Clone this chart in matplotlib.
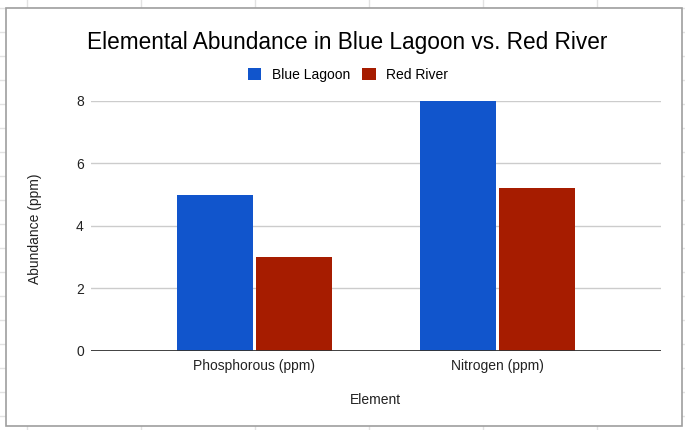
import matplotlib
matplotlib.use("Agg")
import matplotlib.pyplot as plt
import numpy as np

categories = ["Phosphorous (ppm)", "Nitrogen (ppm)"]
series_names = ["Blue Lagoon", "Red River"]
blue_lagoon = [5, 8]
red_river = [3, 5.2]
y_ticks = [0, 2, 4, 6, 8]
title = "Elemental Abundance in Blue Lagoon vs. Red River"
x_label = "Element"
y_label = "Abundance (ppm)"

colors = ["#1155cc", "#a61c00"]

plt.rcParams['font.family'] = ['Liberation Sans', 'DejaVu Sans']

W, H = 685, 430
fig = plt.figure(figsize=(W / 100, H / 100), dpi=100)
fig.patch.set_facecolor("white")

# Background: spreadsheet grid + chart frame (pixel coordinates)
bg = fig.add_axes([0, 0, 1, 1])
bg.set_xlim(0, W)
bg.set_ylim(H, 0)
bg.axis("off")
for cx in [27.5, 141.5, 255.5, 369.5, 483.5, 597.5]:
    bg.plot([cx, cx], [0, H], color="#e2e2e2", lw=1, zorder=0)
for ry in np.arange(7.7, H + 24, 24):
    bg.plot([0, W], [ry, ry], color="#e2e2e2", lw=1, zorder=0)
bg.add_patch(plt.Rectangle((6.3, 7.7), 682.3 - 6.3, 425.7 - 7.7,
                           facecolor="white", edgecolor="#9e9e9e", lw=1.2, zorder=1))

# Main plot
left, right, top, bottom = 90.7, 661, 100.7, 351
ax = fig.add_axes([left / W, (H - bottom) / H, (right - left) / W, (bottom - top) / H])
ax.set_facecolor("none")
x = np.arange(len(categories))
bw = 0.314
off = 0.162
b1 = ax.bar(x - off, blue_lagoon, bw, color=colors[0], label=series_names[0], zorder=3)
b2 = ax.bar(x + off, red_river, bw, color=colors[1], label=series_names[1], zorder=3)

ax.set_xlim(-0.673, 1.672)
ax.set_ylim(0, 8)
ax.set_yticks(y_ticks)
ax.set_yticklabels([str(t) for t in y_ticks])
ax.set_xticks(x)
ax.set_xticklabels(categories)
for s in ax.spines.values():
    s.set_visible(False)
ax.yaxis.grid(True, color="#cccccc", lw=1, zorder=0)
ax.set_axisbelow(True)
ax.axhline(0, color="#333333", lw=1.3, zorder=4)
ax.tick_params(axis="both", length=0, labelsize=10, colors="#222222")
ax.tick_params(axis="y", pad=5)
ax.tick_params(axis="x", pad=6)

ax.set_xlabel(x_label, fontsize=10, color="#222222", labelpad=14)
fig.text(35.5 / W, (H - 229) / H, y_label, rotation=90, fontsize=10, color="#222222",
         ha="center", va="center")

fig.text(347.4 / W, (H - 49.5) / H, title, fontsize=16.3, color="#000000",
         ha="center", va="baseline")

fig.legend(handles=[b1, b2], labels=series_names, loc="center",
           bbox_to_anchor=(347.8 / W, (H - 74.6) / H), ncol=2, frameon=False,
           fontsize=10, handlelength=0.98, handleheight=0.98, handletextpad=0.75,
           columnspacing=0.86, borderaxespad=0, borderpad=0)

fig.savefig("out.png", dpi=100, facecolor="white")
